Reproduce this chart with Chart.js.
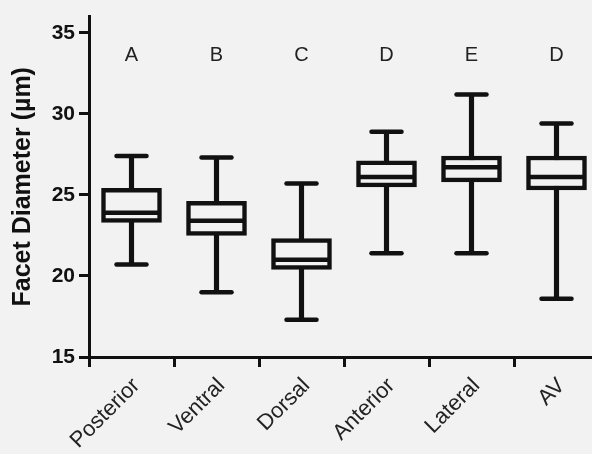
<!DOCTYPE html>
<html>
<head>
<meta charset="utf-8">
<script src="https://cdn.jsdelivr.net/npm/chart.js@4.4.1/dist/chart.umd.min.js"></script>
<style>
  html, body { margin: 0; padding: 0; background: #f2f2f2; overflow: hidden; }
  #wrap { width: 600px; height: 454px; }
</style>
</head>
<body>
<div id="wrap"><canvas id="facetChart" width="600" height="454"></canvas></div>
<script>
// facet diameter per eye region (um)
const categories = ['Posterior', 'Ventral', 'Dorsal', 'Anterior', 'Lateral', 'AV'];
const whiskerMin = [20.7, 19.0, 17.3, 21.4, 21.4, 18.6];
const q1 = [23.3, 22.5, 20.4, 25.5, 25.8, 25.3];
const median = [23.9, 23.4, 21.0, 26.1, 26.7, 26.1];
const q3 = [25.4, 24.6, 22.3, 27.1, 27.4, 27.4];
const whiskerMax = [27.4, 27.3, 25.7, 28.9, 31.2, 29.4];
const groupLetters = ['A', 'B', 'C', 'D', 'E', 'D'];
const yTicks = [15, 20, 25, 30, 35];

const INK = '#111';
const BG = '#f2f2f2';
const LETTER_Y = 33.6;

// caps, medians and the letters above each box
const boxExtras = {
  id: 'boxExtras',
  afterDatasetsDraw(chart) {
    const { ctx, scales: { x, y } } = chart;
    ctx.save();
    ctx.strokeStyle = INK;
    categories.forEach((c, i) => {
      const cx = x.getPixelForValue(i);
      ctx.lineWidth = 4.5;
      ctx.lineCap = 'round';
      [whiskerMin[i], whiskerMax[i]].forEach(v => {
        const py = y.getPixelForValue(v);
        ctx.beginPath();
        ctx.moveTo(cx - 15, py);
        ctx.lineTo(cx + 15, py);
        ctx.stroke();
      });
      ctx.lineCap = 'butt';
      const my = y.getPixelForValue(median[i]);
      ctx.beginPath();
      ctx.moveTo(cx - 28, my);
      ctx.lineTo(cx + 28, my);
      ctx.stroke();

      ctx.fillStyle = '#222';
      ctx.font = '20px "Liberation Sans", Arial, sans-serif';
      ctx.textAlign = 'center';
      ctx.textBaseline = 'middle';
      ctx.fillText(groupLetters[i], cx, y.getPixelForValue(LETTER_Y));
    });
    ctx.restore();
  }
};

new Chart(document.getElementById('facetChart'), {
  type: 'bar',
  data: {
    labels: categories,
    datasets: [
      {
        label: 'IQR',
        data: categories.map((c, i) => [q1[i], q3[i]]),
        backgroundColor: BG,
        borderColor: INK,
        borderWidth: 4.5,
        borderSkipped: false,
        barThickness: 60,
        grouped: false,
        order: 0
      },
      {
        label: 'Range',
        data: categories.map((c, i) => [whiskerMin[i], whiskerMax[i]]),
        backgroundColor: INK,
        borderWidth: 0,
        barThickness: 4.5,
        grouped: false,
        order: 1
      }
    ]
  },
  options: {
    responsive: false,
    animation: false,
    layout: { padding: { top: 16, right: 1, left: 0, bottom: 0 } },
    plugins: {
      legend: { display: false },
      tooltip: { enabled: false }
    },
    scales: {
      x: {
        offset: true,
        grid: {
          display: true,
          drawOnChartArea: false,
          drawTicks: true,
          tickLength: 10,
          tickWidth: 3,
          tickColor: INK
        },
        border: { display: true, color: INK, width: 3 },
        ticks: {
          color: '#222',
          font: { family: '"Liberation Sans", Arial, sans-serif', size: 22 },
          minRotation: 45,
          maxRotation: 45,
          padding: 6,
          labelOffset: 5
        },
        afterFit(scale) { scale.height = 97; }
      },
      y: {
        min: 15,
        max: 36,
        afterBuildTicks(scale) { scale.ticks = yTicks.map(v => ({ value: v })); },
        grid: {
          display: true,
          drawOnChartArea: false,
          tickLength: 10,
          tickWidth: 3,
          tickColor: INK
        },
        border: { display: true, color: INK, width: 3 },
        ticks: {
          color: '#111',
          font: { family: '"Liberation Sans", Arial, sans-serif', size: 21, weight: 'bold' },
          padding: 4
        },
        title: {
          display: true,
          text: 'Facet Diameter (µm)',
          color: '#111',
          font: { family: '"Liberation Sans", Arial, sans-serif', size: 25, weight: 'bold' },
          padding: { top: 8, bottom: 0 }
        },
        afterFit(scale) { scale.width = 89; }
      }
    }
  },
  plugins: [boxExtras]
});
</script>
</body>
</html>
